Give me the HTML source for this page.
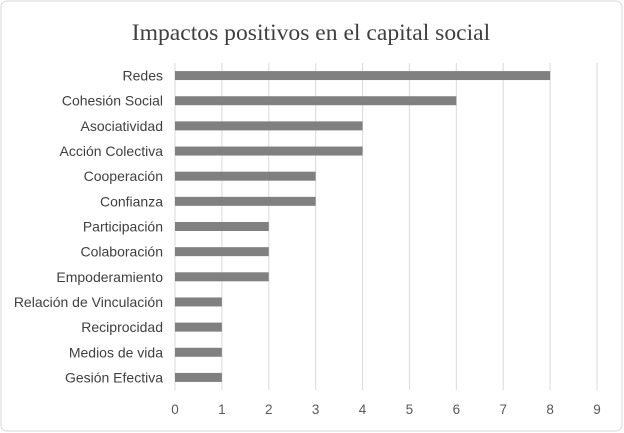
<!DOCTYPE html>
<html><head><meta charset="utf-8"><style>
body{margin:0;background:#fff}
svg{display:block;font-family:"Liberation Sans",sans-serif}
</style></head><body>
<svg width="624" height="433">
<rect x="1" y="1" width="621" height="430" rx="6" fill="#fff" stroke="#d9d9d9"/>
<text x="311" y="40" text-anchor="middle" font-family="Liberation Serif,serif" font-size="23.6" fill="#404040">Impactos positivos en el capital social</text>
<g id="grid"></g><g id="bars"></g><g id="ylab"></g><g id="xlab"></g>
</svg>
<script>
const categories=["Redes","Cohesión Social","Asociatividad","Acción Colectiva","Cooperación","Confianza","Participación","Colaboración","Empoderamiento","Relación de Vinculación","Reciprocidad","Medios de vida ","Gesión Efectiva"];
const values=[8,6,4,4,3,3,2,2,2,1,1,1,1];
const ticks=[0,1,2,3,4,5,6,7,8,9];
const NS="http://www.w3.org/2000/svg";
const x0=175,x9=597,yTop=63,yBot=390;
const xs=v=>x0+(x9-x0)*v/9;
const band=(yBot-yTop)/categories.length;
const yc=i=>yTop+band*(i+0.5);
function mk(t,a,p){const e=document.createElementNS(NS,t);for(const k in a)e.setAttribute(k,a[k]);p.appendChild(e);return e;}
const G=document.getElementById('grid'),B=document.getElementById('bars'),Y=document.getElementById('ylab'),X=document.getElementById('xlab');
ticks.forEach(t=>{
 const l=mk('line',{x1:xs(t),x2:xs(t),y1:yTop,y2:yBot,stroke:'#d9d9d9','stroke-width':1},G);
 
 
 const tx=mk('text',{x:xs(t),y:414,'text-anchor':'middle','font-size':13.5,fill:'#595959'},X);
 tx.textContent=t;
 
 
});
categories.forEach((c,i)=>{
 const r=mk('rect',{x:xs(0),y:yc(i)-4.5,width:xs(values[i])-xs(0),height:9,fill:'#808080'},B);
 
 
 const t=mk('text',{x:163,y:yc(i)+5,'text-anchor':'end','font-size':14,fill:'#404040'},Y);
 t.textContent=c;
 
 
});
</script>
</body></html>
